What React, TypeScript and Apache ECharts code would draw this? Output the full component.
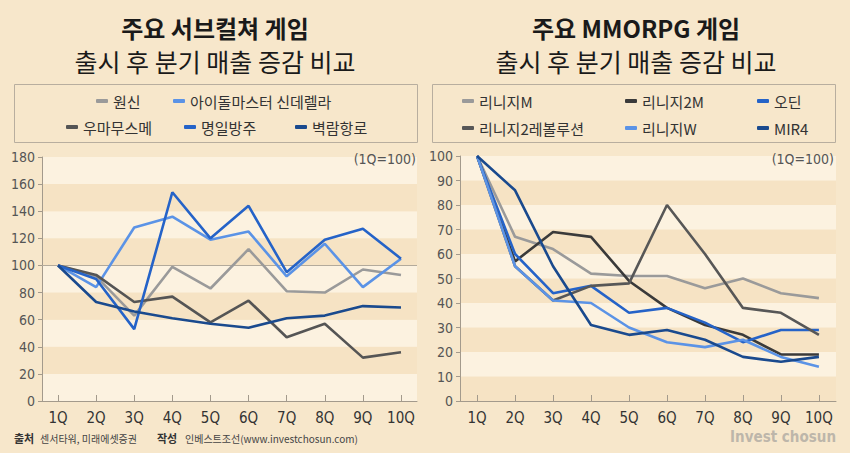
import React, { useEffect, useRef } from "react";
import * as echarts from "echarts";

const quarters = ["1Q", "2Q", "3Q", "4Q", "5Q", "6Q", "7Q", "8Q", "9Q", "10Q"];

// 주요 서브컬쳐 게임
const subNames = ["원신", "아이돌마스터 신데렐라", "우마무스메", "명일방주", "벽람항로"];
const genshin = [100, 92, 63, 99, 83, 112, 81, 80, 97, 93];
const idolmaster = [100, 84, 128, 136, 119, 125, 92, 116, 84, 105];
const umamusume = [100, 93, 73, 77, 58, 74, 47, 57, 32, 36];
const arknights = [100, 90, 53, 154, 120, 144, 95, 119, 127, 105];
const azurlane = [100, 73, 66, 61, 57, 54, 61, 63, 70, 69];
const subValues = [genshin, idolmaster, umamusume, arknights, azurlane];
const subColors = ["#9a9a9a", "#5b93e6", "#555555", "#2563c8", "#1a4a8e"];

// 주요 MMORPG 게임
const mmoNames = ["리니지M", "리니지2M", "오딘", "리니지2레볼루션", "리니지W", "MIR4"];
const lineageM = [100, 67, 62, 52, 51, 51, 46, 50, 44, 42];
const lineage2M = [100, 57, 69, 67, 49, 38, 31, 27, 19, 19];
const odin = [100, 60, 44, 47, 36, 38, 32, 24, 29, 29];
const lineage2Rev = [100, 55, 41, 47, 48, 80, 60, 38, 36, 27];
const lineageW = [100, 55, 41, 40, 30, 24, 22, 25, 18, 14];
const mir4 = [100, 86, 55, 31, 27, 29, 25, 18, 16, 18];
const mmoValues = [lineageM, lineage2M, odin, lineage2Rev, lineageW, mir4];
const mmoColors = ["#9a9a9a", "#3a3a3a", "#2563c8", "#575757", "#5b93e6", "#1a4a8e"];

const leftTicks = [0, 20, 40, 60, 80, 100, 120, 140, 160, 180];
const rightTicks = [0, 10, 20, 30, 40, 50, 60, 70, 80, 90, 100];

const BG = "#f7e7cb";
const LIGHT = "#fcf2e0";
const DARK = "#f6e3c4";
const AXIS = "#a39a8c";
const NARROW = "'Liberation Sans Narrow', 'DejaVu Sans Condensed', 'Roboto', sans-serif";
const KR = "'Noto Sans CJK KR', 'Noto Sans', sans-serif";

const legendPos: Record<string, [number, number]> = {
  "원신": [96, 101],
  "아이돌마스터 신데렐라": [173, 101],
  "우마무스메": [66, 127],
  "명일방주": [184, 127],
  "벽람항로": [295, 127],
  "리니지M": [462, 101],
  "리니지2M": [625, 101],
  "오딘": [757, 101],
  "리니지2레볼루션": [462, 128],
  "리니지W": [625, 128],
  "MIR4": [757, 128],
};

export default function App() {
  const ref = useRef<HTMLDivElement>(null);

  useEffect(() => {
    if (!ref.current) return;
    const chart = echarts.init(ref.current, null, { renderer: "svg" });

    const xCommon = (min: number, max: number) => ({
      type: "value",
      min,
      max,
      axisLine: { show: true, lineStyle: { color: AXIS, width: 1 } },
      axisTick: {
        show: true,
        inside: true,
        length: 6,
        lineStyle: { color: AXIS },
        customValues: quarters.map((_, i) => i + 1),
      },
      axisLabel: {
        show: true,
        margin: 9,
        color: "#333",
        fontSize: 15,
        fontFamily: NARROW,
        customValues: quarters.map((_, i) => i + 1),
        formatter: (v: number) => quarters[Math.round(v) - 1] ?? "",
      },
      splitLine: { show: false },
    });

    const yCommon = (max: number, interval: number, colors: string[]) => ({
      type: "value",
      min: 0,
      max,
      interval,
      axisLine: { show: true, lineStyle: { color: AXIS, width: 1 } },
      axisTick: { show: true, length: 4, lineStyle: { color: AXIS } },
      axisLabel: { color: "#555", fontSize: 14, fontFamily: NARROW, margin: 7 },
      splitLine: { show: false },
      splitArea: { show: true, areaStyle: { color: colors } },
    });

    const series: any[] = [];
    subNames.forEach((name, k) => {
      series.push({
        name,
        type: "line",
        xAxisIndex: 0,
        yAxisIndex: 0,
        data: subValues[k].map((v, i) => [i + 1, v]),
        symbol: "none",
        lineStyle: { color: subColors[k], width: 2.6 },
        itemStyle: { color: subColors[k] },
        z: 3,
        markLine:
          k === 0
            ? {
                silent: true,
                symbol: "none",
                label: { show: false },
                lineStyle: { color: "#b3aa9b", width: 1, type: "solid" },
                data: [{ yAxis: 100 }],
                z: 1,
              }
            : undefined,
      });
    });
    mmoNames.forEach((name, k) => {
      series.push({
        name,
        type: "line",
        xAxisIndex: 1,
        yAxisIndex: 1,
        data: mmoValues[k].map((v, i) => [i + 1, v]),
        symbol: "none",
        lineStyle: { color: mmoColors[k], width: 2.6 },
        itemStyle: { color: mmoColors[k] },
        z: 3,
      });
    });

    const legends = [...subNames, ...mmoNames].map((name) => ({
      data: [name],
      left: legendPos[name][0],
      top: legendPos[name][1] - 9,
      padding: 0,
      icon: "roundRect",
      itemWidth: 12,
      itemHeight: 4,
      itemGap: 0,
      selectedMode: false,
      textStyle: { color: "#333", fontSize: 15, fontFamily: KR, lineHeight: 18, padding: [0, 0, 0, 0] },
    }));

    const title = (cx: number, l1: string, l2: string) => [
      {
        type: "text",
        x: cx,
        y: 27,
        style: {
          text: l1,
          fill: "#1a1a1a",
          font: `bold 24px ${KR}`,
          lineHeight: 26,
          textAlign: "center",
          textVerticalAlign: "middle",
        },
      },
      {
        type: "text",
        x: cx,
        y: 61,
        style: {
          text: l2,
          fill: "#1a1a1a",
          font: `25px ${KR}`,
          lineHeight: 27,
          textAlign: "center",
          textVerticalAlign: "middle",
        },
      },
    ];

    const option: any = {
      animation: false,
      backgroundColor: BG,
      grid: [
        { left: 42, top: 157, width: 375, height: 244, containLabel: false },
        { left: 460, top: 156, width: 376, height: 245, containLabel: false },
      ],
      xAxis: [
        { ...xCommon(0.58, 10.42), gridIndex: 0 },
        { ...xCommon(0.55, 10.45), gridIndex: 1 },
      ],
      yAxis: [
        { ...yCommon(leftTicks[leftTicks.length - 1], 20, [LIGHT, DARK]), gridIndex: 0 },
        { ...yCommon(rightTicks[rightTicks.length - 1], 10, [DARK, LIGHT]), gridIndex: 1 },
      ],
      legend: legends,
      series,
      graphic: [
        ...title(215, "주요 서브컬쳐 게임", "출시 후 분기 매출 증감 비교"),
        ...title(636, "주요 MMORPG 게임", "출시 후 분기 매출 증감 비교"),
        {
          type: "rect",
          shape: { x: 14.5, y: 84.5, width: 403, height: 58 },
          style: { fill: "none", stroke: "#b8ae9f", lineWidth: 1 },
        },
        {
          type: "rect",
          shape: { x: 432.5, y: 84.5, width: 403, height: 58 },
          style: { fill: "none", stroke: "#b8ae9f", lineWidth: 1 },
        },
        {
          type: "text",
          x: 416,
          y: 159,
          z: 10,
          style: { text: "(1Q=100)", fill: "#555", font: `14px ${NARROW}`, textAlign: "right", textVerticalAlign: "middle" },
        },
        {
          type: "text",
          x: 834,
          y: 159,
          z: 10,
          style: { text: "(1Q=100)", fill: "#555", font: `14px ${NARROW}`, textAlign: "right", textVerticalAlign: "middle" },
        },
        {
          type: "text",
          x: 14,
          y: 438,
          style: { text: "출처", fill: "#333", font: `bold 11px ${KR}`, textVerticalAlign: "middle" },
        },
        {
          type: "text",
          x: 40,
          y: 438,
          style: { text: "센서타워, 미래에셋증권", fill: "#444", font: `10px ${KR}`, textVerticalAlign: "middle" },
        },
        {
          type: "text",
          x: 157,
          y: 438,
          style: { text: "작성", fill: "#333", font: `bold 11px ${KR}`, textVerticalAlign: "middle" },
        },
        {
          type: "text",
          x: 185,
          y: 438,
          style: { text: "인베스트조선(www.investchosun.com)", fill: "#444", font: `10px ${KR}`, textVerticalAlign: "middle" },
        },
        {
          type: "text",
          x: 836,
          y: 437,
          style: { text: "Invest chosun", fill: "#bdb6aa", font: `bold 15px ${NARROW}`, textAlign: "right", textVerticalAlign: "middle" },
        },
      ],
    };

    chart.setOption(option);
    return () => chart.dispose();
  }, []);

  return (
    <div
      ref={ref}
      style={{ width: 850, height: 453, position: "absolute", left: 0, top: 0 }}
    />
  );
}
